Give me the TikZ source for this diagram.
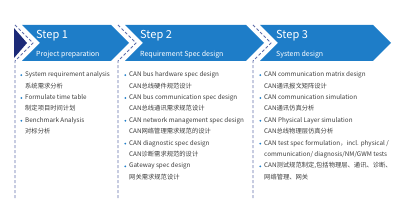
\documentclass[tikz,border=0pt]{standalone}
\usepackage{fontspec}
\newfontfamily\cjk{Noto Sans CJK SC}
\usepackage{tikz}
\usetikzlibrary{positioning}

\definecolor{stepblue}{RGB}{30,125,200}
\definecolor{stepnavy}{RGB}{28,42,120}
\definecolor{sepline}{RGB}{95,110,170}
\definecolor{bodytext}{RGB}{60,60,60}

\begin{document}
\begin{tikzpicture}[
	x=1pt, y=-1pt,
	chevron/.style={fill=stepblue},
	separator/.style={draw=sepline, line width=0.8pt, dash pattern=on 3pt off 2pt},
	steptitle/.style={
		anchor=base west, inner sep=0pt, text=white,
		font=\cjk\fontsize{11}{11}\selectfont
	},
	stepsub/.style={
		anchor=base west, inner sep=0pt, text=white,
		font=\cjk\fontsize{7}{7}\selectfont
	},
	line/.style={
		inner sep=0pt, text height=7pt, text depth=4pt,
		text=bodytext, font=\cjk\fontsize{6.3}{7}\selectfont,
		anchor=north west
	},
	dot/.style={circle, fill=stepblue, inner sep=0pt, minimum size=2pt, xshift=-2.5pt},
	entry/.style={line, label={[dot]left:{}}},
	nextline/.style={below=0pt of #1.south west, anchor=north west}
	]
	\useasboundingbox (0,0) rectangle (400,208);
	
	% chevrons
	\fill[stepnavy] (14,28) -- (27,43) -- (14,58) -- cycle;
	\fill[chevron] (22,25) -- (111,25) -- (129,43) -- (111,61) -- (22,61) -- (40,43) -- cycle;
	\fill[chevron] (125,25) -- (246,25) -- (264,43) -- (246,61) -- (125,61) -- (143,43) -- cycle;
	\fill[chevron] (260,25) -- (373,25) -- (391,43) -- (373,61) -- (260,61) -- (278,43) -- cycle;
	
	% dashed separators
	\draw[separator] (15,25) -- (33,43) -- (15,61) -- (15,200);
	\draw[separator] (118,25) -- (136,43) -- (118,61) -- (118,200);
	\draw[separator] (253,25) -- (271,43) -- (253,61) -- (253,200);
	
	% step titles
	\node[steptitle] (step1) at (36,39) {Step 1};
	\node[stepsub] (sub1) at (36,56.5) {Project preparation};
	\node[steptitle] (step2) at (140,39) {Step 2};
	\node[stepsub] (sub2) at (140,56.5) {Requirement Spec design};
	\node[steptitle] (step3) at (276,39) {Step 3};
	\node[stepsub] (sub3) at (276,56.5) {System design};
	
	% Step 1 items
	\node[entry] (a1) at (25,69.5) {System requirement analysis};
	\node[line, nextline=a1] (a2) {系统需求分析};
	\node[entry, nextline=a2] (a3) {Formulate time table};
	\node[line, nextline=a3] (a4) {制定项目时间计划};
	\node[entry, nextline=a4] (a5) {Benchmark Analysis};
	\node[line, nextline=a5] (a6) {对标分析};
	
	% Step 2 items
	\node[entry] (b1) at (129,69.5) {CAN bus hardware spec design};
	\node[line, nextline=b1] (b2) {CAN总线硬件规范设计};
	\node[entry, nextline=b2] (b3) {CAN bus communication spec design};
	\node[line, nextline=b3] (b4) {CAN总线通讯需求规范设计};
	\node[entry, nextline=b4] (b5) {CAN network management spec design};
	\node[line, nextline=b5] (b6) {CAN网络管理需求规范的设计};
	\node[entry, nextline=b6] (b7) {CAN diagnostic spec design};
	\node[line, nextline=b7] (b8) {CAN诊断需求规范的设计};
	\node[entry, nextline=b8] (b9) {Gateway spec design};
	\node[line, nextline=b9] (b10) {网关需求规范设计};
	
	% Step 3 items
	\node[entry] (c1) at (264,69.5) {CAN communication matrix design};
	\node[line, nextline=c1] (c2) {CAN通讯报文矩阵设计};
	\node[entry, nextline=c2] (c3) {CAN communication simulation};
	\node[line, nextline=c3] (c4) {CAN通讯仿真分析};
	\node[entry, nextline=c4] (c5) {CAN Physical Layer simulation};
	\node[line, nextline=c5] (c6) {CAN总线物理层仿真分析};
	\node[entry, nextline=c6] (c7) {CAN test spec formulation，incl. physical /};
	\node[line, nextline=c7] (c8) {communication/ diagnosis/NM/GWM tests};
	\node[entry, nextline=c8] (c9) {CAN测试规范制定,包括物理层、通讯、诊断、};
	\node[line, nextline=c9] (c10) {网络管理、网关};
\end{tikzpicture}
\end{document}
